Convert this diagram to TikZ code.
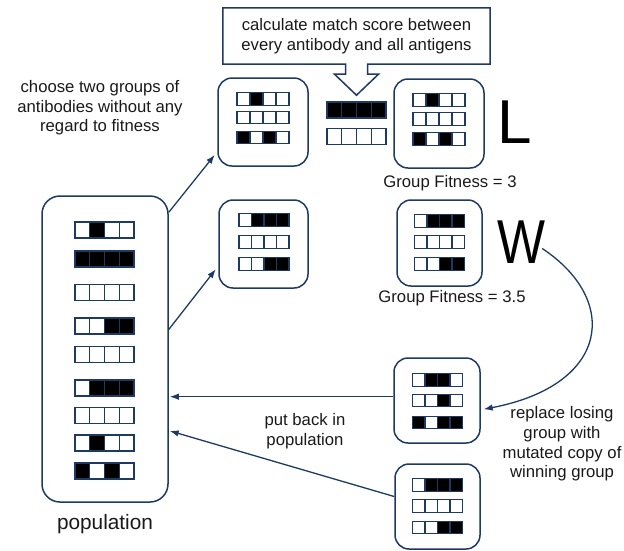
\documentclass[tikz,border=0pt]{standalone}
\usepackage{fontspec}
\setmainfont{Liberation Sans}
\usetikzlibrary{arrows.meta,calc,positioning}
\definecolor{abnavy}{RGB}{28,58,98}
\definecolor{abtext}{RGB}{25,25,25}
\colorlet{bitc0}{white}
\colorlet{bitc1}{black}

% one antibody / antigen: four cells in a row
\newcommand{\bitrow}[6]{%
  \foreach \b [count=\i] in {#6}
    \node[bitcell, fill=bitc\b, minimum width=#4pt, minimum height=#5pt]
      (#1-\i) at ({#2+(\i-2.5)*#4}, #3) {};
}

\begin{document}
\begin{tikzpicture}[
  x=1pt, y=-1pt,
  grpbox/.style={draw=abnavy, line width=1.5pt, rounded corners=14pt,
                 inner sep=0pt, minimum width=88pt, minimum height=87pt},
  bitcell/.style={draw=abnavy, line width=1.2pt, inner sep=0pt, outer sep=0pt},
  lbl/.style={text=abtext, align=center, inner sep=0pt,
              font=\fontsize{16.7}{19.6}\selectfont},
  bigletter/.style={text=black, inner sep=0pt, font=\fontsize{62}{62}\selectfont},
  arr/.style={-{Latex[length=9pt,width=6.5pt]}, abnavy, line width=1.3pt}
]
  \useasboundingbox (0,0) rectangle (624,550);

  % population
  \node[grpbox, rounded corners=18pt, minimum width=126pt,
        minimum height=306pt] (popbox) at (105,349) {};
  \bitrow{pop1}{104.5}{230}{14.75}{16}{0,1,0,0}
  \bitrow{pop2}{104.5}{259}{14.75}{16}{1,1,1,1}
  \bitrow{pop3}{104.5}{292.5}{14.75}{16}{0,0,0,0}
  \bitrow{pop4}{104.5}{326}{14.75}{16}{0,0,1,1}
  \bitrow{pop5}{104.5}{354.5}{14.75}{16}{0,0,0,0}
  \bitrow{pop6}{104.5}{388}{14.75}{16}{0,1,1,1}
  \bitrow{pop7}{104.5}{415.5}{14.75}{16}{0,0,0,0}
  \bitrow{pop8}{104.5}{443}{14.75}{16}{0,1,0,0}
  \bitrow{pop9}{104.5}{471}{14.75}{16}{1,0,1,0}
  \node[lbl, font=\fontsize{20.8}{24}\selectfont] (poplbl) at (105,524) {population};

  % the two chosen groups
  \node[grpbox, minimum width=90pt, minimum height=88pt] (grpA) at (263,122) {};
  \bitrow{a1}{263}{99}{13}{12.5}{0,1,0,0}
  \bitrow{a2}{263}{117.5}{13}{12.5}{0,0,0,0}
  \bitrow{a3}{263}{137.5}{13}{12.5}{1,0,1,0}

  \node[grpbox, minimum width=89pt, minimum height=88pt] (grpC) at (263.5,244) {};
  \bitrow{c1}{264}{220}{12.5}{12.5}{0,1,1,1}
  \bitrow{c2}{264}{242}{12.5}{12.5}{0,0,0,0}
  \bitrow{c3}{264}{264}{12.5}{12.5}{0,0,1,1}

  % antigens
  \bitrow{ag1}{356.5}{110}{14.75}{16}{1,1,1,1}
  \bitrow{ag2}{356.5}{136.5}{14.75}{16}{0,0,0,0}

  \node[lbl, minimum width=267pt, minimum height=56pt] (callout) at (356.5,36)
    {calculate match score between\\every antibody and all antigens};
  \draw[abnavy, line width=1.5pt] (callout.north west) -- (callout.north east)
    -- (callout.south east) -- ($(callout.south)+(11,0)$) -- ++(0,10) -- ++(11,0)
    -- ($(callout.south)+(0,31)$) -- ($(callout.south)+(-22,10)$) -- ++(11,0)
    -- ($(callout.south)+(-11,0)$) -- (callout.south west) -- cycle;

  % loser and winner
  \node[grpbox, minimum width=90pt, minimum height=89pt] (grpB) at (439,123.5) {};
  \bitrow{b1}{439}{100}{13}{12.5}{0,1,0,0}
  \bitrow{b2}{439}{119}{13}{12.5}{0,0,0,0}
  \bitrow{b3}{439}{139}{13}{12.5}{1,0,1,0}
  \node[bigletter] (Llet) at (515,122) {L};
  \node[lbl] (fitL) at (450,183) {Group Fitness = 3};

  \node[grpbox, minimum width=85pt, minimum height=86pt] (grpD) at (439.5,243) {};
  \bitrow{d1}{439.5}{221}{12.5}{12.5}{0,1,1,1}
  \bitrow{d2}{439.5}{242}{12.5}{12.5}{0,0,0,0}
  \bitrow{d3}{439.5}{264}{12.5}{12.5}{0,0,1,1}
  \node[bigletter] (Wlet) at (521,242) {\scalebox{0.82}[1]{W}};
  \node[lbl] (fitW) at (452,298) {Group Fitness = 3.5};

  % mutated copy and the group put back
  \node[grpbox, minimum width=86pt, minimum height=85pt] (grpE) at (437,400.5) {};
  \bitrow{e1}{437.5}{380}{12.5}{12.5}{0,1,1,0}
  \bitrow{e2}{437.5}{400.5}{12.5}{12.5}{0,0,1,0}
  \bitrow{e3}{437.5}{422.5}{12.5}{12.5}{1,0,1,1}

  \node[grpbox, minimum width=85pt, minimum height=85pt] (grpF) at (437.5,506.5) {};
  \bitrow{f1}{437.5}{485}{12.5}{12.5}{0,1,1,1}
  \bitrow{f2}{437.5}{506}{12.5}{12.5}{0,0,0,0}
  \bitrow{f3}{437.5}{527.5}{12.5}{12.5}{0,0,1,1}

  % notes
  \node[lbl] (choose) at (100,108)
    {choose two groups of\\antibodies without any\\regard to fitness};
  \node[lbl] (putback) at (305,431) {put back in\\population};
  \node[lbl] (replace) at (562,444)
    {replace losing\\group with\\mutated copy of\\winning group};

  \draw[arr, shorten >=4pt] (popbox.65) -- (grpA.213);
  \draw[arr, shorten >=4pt] (popbox.17) -- (grpC.206);
  \draw[arr, shorten >=3pt] ([xshift=-3pt]Wlet.-15)
    .. controls (620,300) and (610,385) .. (grpE.348);
  \draw[arr, shorten >=1pt] (grpE.175) -- (popbox.east |- grpE.175);
  \draw[arr, shorten >=1pt] (grpF.167) -- (popbox.-52);
\end{tikzpicture}
\end{document}
